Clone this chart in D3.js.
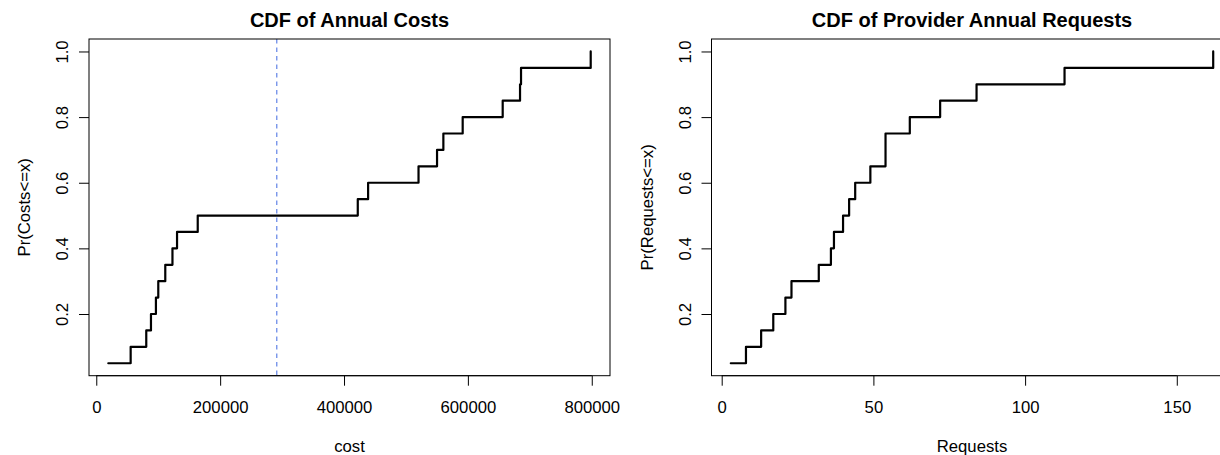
<!DOCTYPE html>
<html lang="en">
<head>
<meta charset="UTF-8">
<title>CDF plots</title>
<script src="https://d3js.org/d3.v7.min.js"></script>
<style>
  body { margin: 0; background: #fff; }
  svg { display: block; font-family: "Liberation Sans", Arial, Helvetica, sans-serif; }
</style>
</head>
<body>
<script>

// annual costs, sorted (20 providers)
var costs = [19400, 55500, 80700, 88300, 96300, 100100, 111400, 123000, 130400, 163800,
             422200, 438900, 520300, 550200, 560400, 591600, 656200, 684200, 685800, 798300];
// annual requests, sorted
var requests = [3, 8, 13, 17, 21, 23, 32, 36, 37, 40,
                42, 44, 49, 54, 54, 62, 72, 84, 113, 162];

var costTicks = [0, 200000, 400000, 600000, 800000];
var requestTicks = [0, 50, 100, 150];
var probTicks = [0.2, 0.4, 0.6, 0.8, 1.0];

// dashed marker on the cost plot
var costMarker = 291500;

var panels = [
  {title: "CDF of Annual Costs", xlab: "cost", ylab: "Pr(Costs<=x)",
   values: costs, ticks: costTicks, marker: costMarker},
  {title: "CDF of Provider Annual Requests", xlab: "Requests", ylab: "Pr(Requests<=x)",
   values: requests, ticks: requestTicks, marker: null}
];

var W = 1220, H = 455;
var panelW = 622.5;
var margin = {top: 39, right: 12.5, bottom: 79.3, left: 89};
var width = panelW - margin.left - margin.right,
    height = H - margin.top - margin.bottom;

var svg = d3.select("body").append("svg")
    .attr("width", W)
    .attr("height", H);

svg.append("rect").attr("width", W).attr("height", H).attr("fill", "#fff");

// R style: extend range by 4% on each side
function rlim(v) {
  var lo = d3.min(v), hi = d3.max(v), d = (hi - lo) * 0.04;
  return [lo - d, hi + d];
}

panels.forEach(function(p, k) {
  var n = p.values.length;
  var pts = p.values.map(function(v, i) { return [v, (i + 1) / n]; });

  var g = svg.append("g")
      .attr("transform", "translate(" + (k * panelW + margin.left) + "," + margin.top + ")");

  var x = d3.scaleLinear().domain(rlim(p.values)).range([0, width]);
  var y = d3.scaleLinear().domain(rlim(pts.map(function(d) { return d[1]; }))).range([height, 0]);

  // x axis
  var xa = g.append("g")
      .attr("transform", "translate(0," + height + ")")
      .call(d3.axisBottom(x).tickValues(p.ticks).tickSize(10).tickPadding(20).tickFormat(d3.format("d")));
  xa.select(".domain").remove();
  xa.selectAll("line").attr("stroke", "#000");
  xa.selectAll("text").attr("font-size", "16.7px").attr("fill", "#000")
      .attr("dy", null).attr("y", 37.3);

  // y axis
  var ya = g.append("g")
      .call(d3.axisLeft(y).tickValues(probTicks).tickSize(10).tickFormat(d3.format(".1f")));
  ya.select(".domain").remove();
  ya.selectAll("line").attr("stroke", "#000");
  ya.selectAll("text")
      .attr("font-size", "16.7px").attr("fill", "#000")
      .attr("x", null).attr("dy", null)
      .attr("transform", "translate(-21,0) rotate(-90)")
      .attr("text-anchor", "middle");

  // axis lines from first to last tick (as R does)
  g.append("line")
      .attr("x1", x(p.ticks[0])).attr("x2", x(p.ticks[p.ticks.length - 1]))
      .attr("y1", height).attr("y2", height)
      .attr("stroke", "#000");

  // median marker
  if (p.marker !== null) {
    g.append("line")
        .attr("x1", x(p.marker)).attr("x2", x(p.marker))
        .attr("y1", 0).attr("y2", height)
        .attr("stroke", "#4169e1")
        .attr("stroke-width", 1)
        .attr("stroke-dasharray", "4.5,4");
  }

  // step line
  g.append("path")
      .datum(pts)
      .attr("fill", "none")
      .attr("stroke", "#000")
      .attr("stroke-width", 2.2)
      .attr("stroke-linejoin", "round")
      .attr("stroke-linecap", "round")
      .attr("d", d3.line()
          .x(function(d) { return x(d[0]); })
          .y(function(d) { return y(d[1]); })
          .curve(d3.curveStepAfter));

  // box
  g.append("rect")
      .attr("width", width).attr("height", height)
      .attr("fill", "none").attr("stroke", "#000");

  // titles
  g.append("text")
      .attr("x", width / 2).attr("y", -12.2)
      .attr("text-anchor", "middle")
      .attr("font-size", "20px").attr("font-weight", "bold")
      .text(p.title);

  g.append("text")
      .attr("x", width / 2).attr("y", height + 75.9)
      .attr("text-anchor", "middle")
      .attr("font-size", "16.7px")
      .text(p.xlab);

  g.append("text")
      .attr("transform", "translate(-59," + (height / 2) + ") rotate(-90)")
      .attr("text-anchor", "middle")
      .attr("font-size", "16.7px")
      .text(p.ylab);
});

</script>
</body>
</html>
